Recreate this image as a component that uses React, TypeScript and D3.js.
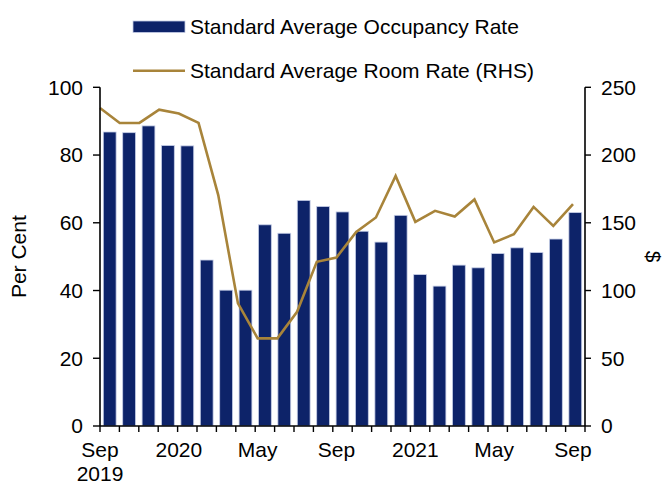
import * as d3 from "d3"
import React from "react"

const months = ["Sep", "Oct", "Nov", "Dec", "Jan", "Feb", "Mar", "Apr", "May", "Jun", "Jul", "Aug",
  "Sep", "Oct", "Nov", "Dec", "Jan", "Feb", "Mar", "Apr", "May", "Jun", "Jul", "Aug", "Sep"]
const occupancy = [86.8, 86.6, 88.6, 82.8, 82.7, 49.0, 40.1, 40.1, 59.4, 56.9, 66.6, 64.8, 63.2,
  57.5, 54.3, 62.2, 44.7, 41.3, 47.5, 46.7, 50.9, 52.6, 51.2, 55.2, 63.0]
const roomRate = [234.7, 223.7, 223.7, 233.5, 230.6, 223.7, 170.4, 90.5, 64.7, 64.7, 84.3, 121.2, 124.4,
  143.3, 153.9, 184.6, 150.7, 158.8, 154.6, 167.2, 135.5, 141.6, 161.7, 147.7, 163.7]
const xLabels = [
  { i: 0, text: ["Sep", "2019"] },
  { i: 4, text: ["2020"] },
  { i: 8, text: ["May"] },
  { i: 12, text: ["Sep"] },
  { i: 16, text: ["2021"] },
  { i: 20, text: ["May"] },
  { i: 24, text: ["Sep"] },
]
const leftTicks = [0, 20, 40, 60, 80, 100]
const rightTicks = [0, 50, 100, 150, 200, 250]

const W = 665, H = 486
const left = 100, right = 585, top = 87.3, bottom = 426
const navy = "#0d2369"
const gold = "#a8843a"
const font = "'Liberation Sans', Arial, sans-serif"
const fs = 21

export default () => {
  const idx = months.map((_, i) => i)
  const x = d3.scaleBand<number>().domain(idx).range([left, right]).paddingInner(0.34).paddingOuter(0.17)
  const step = x.step()
  // line points and labels sit on their own slightly wider spacing
  const xp = d3.scaleLinear().domain([0, months.length - 1]).range([left, 573])
  const yL = d3.scaleLinear().domain([0, 100]).range([bottom, top])
  const yR = d3.scaleLinear().domain([0, 250]).range([bottom, top])
  const line = d3.line<number>().x((_, i) => xp(i)).y(d => yR(d))(roomRate)
  const bounds = d3.range(months.length + 1).map(i => left + i * step)

  return (
    <svg width={W} height={H} style={{ position: "absolute", left: 0, top: 0, background: "#fff" }} fontFamily={font}>
      {occupancy.map((v, i) => (
        <rect key={i} x={x(i)} y={yL(v)} width={x.bandwidth()} height={bottom - yL(v)}
          fill={navy} stroke="#c5cde6" strokeWidth={0.8} />
      ))}
      <path d={line!} fill="none" stroke={gold} strokeWidth={2.6} strokeLinejoin="miter" />

      {/* left axis */}
      <line x1={left} y1={top} x2={left} y2={bottom} stroke="#000" strokeWidth={1.6} />
      {leftTicks.map(t => (
        <g key={t}>
          <line x1={left - 7} x2={left} y1={yL(t)} y2={yL(t)} stroke="#000" strokeWidth={1.4} />
          <text x={83} y={yL(t)} dy="0.35em" textAnchor="end" fontSize={fs}>{t}</text>
        </g>
      ))}
      {/* right axis */}
      <line x1={right} y1={top} x2={right} y2={bottom} stroke="#000" strokeWidth={1.6} />
      {rightTicks.map(t => (
        <g key={t}>
          <line x1={right} x2={right + 6} y1={yR(t)} y2={yR(t)} stroke="#000" strokeWidth={1.4} />
          <text x={601} y={yR(t)} dy="0.35em" textAnchor="start" fontSize={fs}>{t}</text>
        </g>
      ))}
      {/* x axis */}
      <line x1={left} y1={bottom} x2={right} y2={bottom} stroke="#000" strokeWidth={1.6} />
      {bounds.map((b, i) => (
        <line key={i} x1={b} x2={b} y1={bottom} y2={bottom + 6} stroke="#000" strokeWidth={1.4} />
      ))}
      {xLabels.map(l => (
        <text key={l.i} x={xp(l.i)} y={457} textAnchor="middle" fontSize={fs}>
          {l.text.map((t, j) => <tspan key={j} x={xp(l.i)} dy={j ? 24 : 0}>{t}</tspan>)}
        </text>
      ))}

      <text transform={`translate(26,${(top + bottom) / 2}) rotate(-90)`} textAnchor="middle" fontSize={fs}>Per Cent</text>
      <text transform={`translate(646,${(top + bottom) / 2}) rotate(90)`} textAnchor="middle" fontSize={fs}>$</text>

      {/* legend */}
      <rect x={133} y={21} width={52} height={11.5} fill={navy} stroke="#c5cde6" strokeWidth={0.8} />
      <text x={190} y={26.5} dy="0.35em" fontSize={fs}>Standard Average Occupancy Rate</text>
      <line x1={133} x2={185} y1={70.7} y2={70.7} stroke={gold} strokeWidth={2.6} />
      <text x={190} y={71} dy="0.35em" fontSize={fs}>Standard Average Room Rate (RHS)</text>
    </svg>
  )
}
